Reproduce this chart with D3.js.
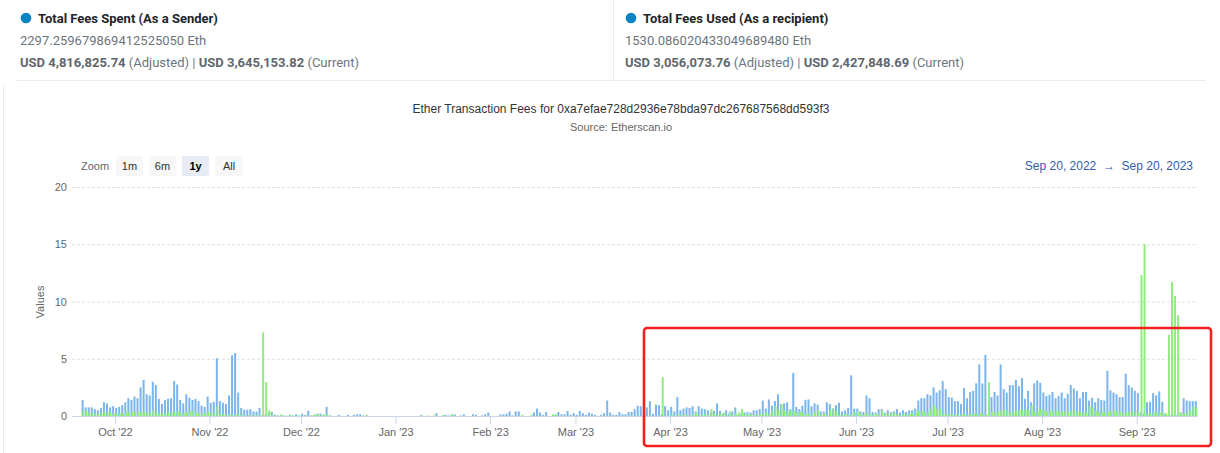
<!DOCTYPE html>
<html><head><meta charset="utf-8">
<script src="https://cdn.jsdelivr.net/npm/d3@7"></script>
<style>
html,body{margin:0;padding:0;background:#fff;}
svg{display:block;}
</style></head>
<body>
<svg id="c" width="1220" height="453"></svg>
<script>
// ---------------- DATA ----------------
const startDay = "2022-09-20";
const endDay = "2023-09-20";
const tickMonths = ["2022-10-01","2022-11-01","2022-12-01","2023-01-01","2023-02-01","2023-03-01","2023-04-01","2023-05-01","2023-06-01","2023-07-01","2023-08-01","2023-09-01"];
const yTicks = [0,5,10,15,20];
const zoomLabels = ["1m","6m","1y","All"];
const seriesNames = ["Total Fees Spent (As a Sender)","Total Fees Used (As a recipient)"];
const ethTotals = ["2297.259679869412525050 Eth","1530.086020433049689480 Eth"];
const usdAdjusted = ["USD 4,816,825.74","USD 3,056,073.76"];
const usdCurrent = ["USD 3,645,153.82","USD 2,427,848.69"];

// Daily fees (Eth) — sender (blue)
const sender = [
1.4,.75,.75,.75,.6,.5,.7,1.2,1.1,.75,
.85,.7,.8,.95,1.2,1.55,1.4,1.7,1.55,2.5,
3.15,1.9,1.8,3.0,2.7,1.5,1.05,1.4,1.5,1.55,
3.05,2.75,1.4,1.1,1.9,1.6,1.4,1.5,1.3,.9,
.8,1.7,1.15,1.25,5.05,1.3,1.15,1.05,1.8,5.3,
5.5,2.05,.7,.55,.55,.6,.4,.4,.7,
.1,.1,.3,.35,.12,.05,.05,.05,0,.1,
.05,.15,.05,.2,.1,.45,.05,.1,.2,.2,
.1,.8,.05,0,0,.1,0,0,.1,0,
.1,
.15,.15,.05,.05,
0,0,0,0,0,0,0,0,0,0,0,0,0,0,0,0,0,
.1,0,0,0,0,.25,0,0,.1,.05,
.15,.15,0,.05,.15,0,0,.15,.1,0,
.05,.15,.3,0,0,0,.15,.15,.2,.4,
.05,.4,.4,0,0,0,0,.3,.65,.3,
.1,.35,0,0,.1,.35,.15,.15,.45,.1,
.25,.1,.45,.25,.1,.3,.2,.1,.02,.1,
.25,1.35,.3,.1,.1,.35,.15,.15,.35,.35,
.6,
.9,.85,.4,.75,1.3,.2,1.0,.95,.15,.85,
.5,.8,.4,1.65,.5,.65,.75,.7,.85,.4,
.85,.65,.6,.5,.3,.45,1.1,.45,.2,.5,
.2,.4,.75,.1,.2,.3,.35,.3,.5,.5,
.6,1.35,.65,1.45,.9,1.3,1.9,1.05,1.1,1.2,
.6,3.75,.8,.6,.9,1.4,1.45,.85,1.1,1.0,
.4,.4,1.2,1.05,.65,.95,1.15,.4,.5,.7,
3.55,.65,.65,.4,.35,1.8,1.55,.35,.3,.6,
.6,.3,.5,.35,.4,.6,.3,.5,.35,.5,
.5,.65,
1.35,1.55,1.55,1.9,1.8,2.5,2.05,2.25,3.05,2.35,
1.65,1.6,1.3,1.3,1.05,2.45,1.55,2.1,2.2,2.85,
4.5,2.85,5.35,.1,1.65,2.1,1.8,4.5,2.35,2.05,
2.7,2.7,3.15,2.6,3.3,1.5,2.2,1.2,2.85,3.1,
2.9,2.05,1.75,1.85,2.1,1.55,1.75,2.05,1.55,1.95,
2.7,2.4,2.2,1.55,2.1,2.1,1.35,1.6,1.2,1.55,
1.4,1.35,3.95,2.25,2.05,1.9,1.65,1.65,3.7,2.7,
2.5,2.2,2.0,
.3,.2,1.2,1.25,2.0,1.8,2.15,1.25,.2,.1,.1,.1,.1,.3,1.55,1.35,1.3,1.3,1.3
];

// Daily fees (Eth) — recipient (green)
const recipient = [
.38,.5,.29,.26,.2,.17,.23,.38,.29,.32,
.23,.23,.23,.2,.35,.32,.35,.38,.32,.38,
.32,.29,.23,.52,.32,.23,.2,.23,.35,.29,
.35,.41,.29,.23,.35,.41,.47,.29,.26,.26,
.23,.38,.29,.23,.8,.17,.15,.1,.12,.1,
.1,.1,.08,.05,.05,.05,.05,.05,.05,
7.3,2.95,.5,.1,.05,0,.15,0,.05,.1,
0,.05,.05,0,.05,0,.05,.15,.1,.05,
.15,.1,.05,0,0,0,0,0,0,0,
0,
0,0,0,.1,
0,0,0,0,0,0,0,0,0,0,0,0,0,0,0,0,0,
.05,0,.05,0,.05,0,0,.1,0,0,
.15,0,0,0,0,0,0,0,0,0,
0,0,0,0,0,0,0,0,0,0,
0,0,0,.1,0,0,.1,0,.05,0,
0,0,0,.15,.15,0,0,0,0,0,
0,0,0,0,0,0,0,0,0,0,
0,0,0,0,0,0,0,0,0,0,
0,
.05,0,0,0,.05,0,0,.05,3.4,0,
.05,.1,0,.1,.05,.1,.1,.05,.1,.3,
.1,.1,.15,.1,.6,.2,.1,.15,.3,.1,
.4,.1,.2,.3,.6,.1,.15,.2,.1,.1,
.15,.2,.3,.15,.4,.85,.5,1.0,.5,.4,
.5,.4,.35,.4,.3,.15,.2,.1,.4,.5,
.1,.3,.1,.5,.65,.4,.1,.1,.2,.1,
.1,.3,.4,.2,.1,.3,.1,.1,.2,.1,
.5,.2,.1,.3,.3,.15,.1,.2,.1,.2,
.25,.3,
.5,.4,.4,.3,.6,.95,.6,.6,.25,.2,
.17,.12,.12,.1,.17,.2,.12,.15,.23,.23,
.23,.17,.1,2.95,.38,.29,.38,.52,.52,.44,
.32,.35,.5,.55,.5,.58,.52,.87,.44,.38,
.6,.52,.41,.38,.52,.44,.44,.35,.44,.38,
.44,.52,.35,.32,.35,.32,.8,.75,.5,.38,
.32,.32,.38,.44,.5,.41,.38,.23,.35,.38,
.41,.38,.32,
12.3,15.0,.2,.25,.3,.35,.3,.3,.25,7.1,11.7,10.5,8.8,.3,.2,.3,.5,.8,.75
];

// ---------------- DRAW ----------------
const svg = d3.select("#c");
const parse = d3.utcParse("%Y-%m-%d");
const t0 = parse(startDay), t1 = parse(endDay);
const days = d3.utcDay.range(t0, d3.utcDay.offset(t1, 1));

const FONT = "'Liberation Sans', Arial, sans-serif";
const HFONT = "Roboto, 'Noto Sans', sans-serif";

// header
const panels = [{x:20},{x:625}];
panels.forEach((p,i)=>{
  const g = svg.append("g");
  g.append("circle").attr("cx", p.x+6).attr("cy", 18).attr("r", 5.3).attr("fill", "#0784c3");
  g.append("text").attr("x", p.x+18).attr("y", 22.5).attr("font-family", HFONT)
    .attr("font-size", 13).attr("font-weight", 700).attr("fill", "#212529").text(seriesNames[i]);
  g.append("text").attr("x", p.x).attr("y", 44.5).attr("font-family", HFONT)
    .attr("font-size", 13).attr("fill", "#6c757d").text(ethTotals[i]);
  const t = g.append("text").attr("x", p.x).attr("y", 66.5).attr("font-family", HFONT)
    .attr("font-size", 13).attr("fill", "#6c757d");
  t.append("tspan").attr("font-weight", 700).attr("fill","#5f676e").text(usdAdjusted[i]);
  t.append("tspan").text(" (Adjusted) | ");
  t.append("tspan").attr("font-weight", 700).attr("fill","#5f676e").text(usdCurrent[i]);
  t.append("tspan").text(" (Current)");
});
svg.append("line").attr("x1", 17).attr("x2", 1206).attr("y1", 80.5).attr("y2", 80.5).attr("stroke", "#e9ecef");
svg.append("line").attr("x1", 613.5).attr("x2", 613.5).attr("y1", 0).attr("y2", 80).attr("stroke", "#e9ecef");
svg.append("line").attr("x1", 3.5).attr("x2", 3.5).attr("y1", 86).attr("y2", 453).attr("stroke", "#e9ecef");

// titles
svg.append("text").attr("x", 621).attr("y", 113).attr("text-anchor", "middle")
  .attr("font-family", FONT).attr("font-size", 12).attr("fill", "#333")
  .text("Ether Transaction Fees for 0xa7efae728d2936e78bda97dc267687568dd593f3");
svg.append("text").attr("x", 621).attr("y", 131).attr("text-anchor", "middle")
  .attr("font-family", FONT).attr("font-size", 11).attr("fill", "#666")
  .text("Source: Etherscan.io");

// range selector
svg.append("text").attr("x", 81).attr("y", 170).attr("font-family", FONT).attr("font-size", 11)
  .attr("fill", "#666").text("Zoom");
const btnX = [116, 149, 182, 215];
const btnW = [27, 27, 27, 28];
zoomLabels.forEach((lab,i)=>{
  const sel = lab === "1y";
  svg.append("rect").attr("x", btnX[i]).attr("y", 156).attr("width", btnW[i]).attr("height", 20)
    .attr("fill", sel ? "#e6ebf5" : "#f7f7f7");
  svg.append("text").attr("x", btnX[i] + btnW[i]/2).attr("y", 170).attr("text-anchor", "middle")
    .attr("font-family", FONT).attr("font-size", 11).attr("fill", sel ? "#000" : "#333")
    .attr("font-weight", sel ? 700 : 400).text(lab);
});
const fmtRange = d3.utcFormat("%b %-d, %Y");
svg.append("text").attr("x", 1193).attr("y", 170).attr("text-anchor", "end")
  .attr("font-family", FONT).attr("font-size", 12).attr("fill", "#335cad")
  .attr("xml:space", "preserve")
  .text(fmtRange(t0) + "  \u2192  " + fmtRange(t1));

// scales
const x = d3.scaleUtc().domain([t0, t1]).range([81.4, 1194.6]);
const y = d3.scaleLinear().domain([0, 20]).range([416, 187]);
const plotL = 72, plotR = 1198;

// y grid + labels
const yAxis = svg.append("g").attr("transform", `translate(${plotL},0)`)
  .call(d3.axisLeft(y).tickValues(yTicks).tickSize(-(plotR - plotL)).tickPadding(5).tickFormat(d3.format("d")));
yAxis.select(".domain").remove();
yAxis.selectAll(".tick line").attr("stroke", "#e0e0e0").attr("stroke-dasharray", "3,2")
  .attr("opacity", d => d === 0 ? 0 : 1);
yAxis.selectAll(".tick text").attr("font-family", FONT).attr("font-size", 11).attr("fill", "#666");
svg.append("text").attr("transform", "translate(44,302) rotate(-90)").attr("text-anchor", "middle")
  .attr("font-family", FONT).attr("font-size", 11).attr("fill", "#666").text("Values");

// bars
const dayW = x(d3.utcDay.offset(t0,1)) - x(t0);
const bw = 2.0;
const gB = svg.append("g");
gB.selectAll("rect").data(days.map((d,i)=>({d, v: sender[i]}))).join("rect")
  .attr("x", o => x(o.d) + dayW*0.5 - bw/2 - 0.3)
  .attr("y", o => y(o.v))
  .attr("width", bw)
  .attr("height", o => y(0) - y(o.v))
  .attr("fill", "#7cb5ec");
const gG = svg.append("g");
gG.selectAll("rect").data(days.map((d,i)=>({d, v: recipient[i]}))).join("rect")
  .attr("x", o => x(o.d) + dayW*0.5 - bw/2 + 0.3)
  .attr("y", o => y(o.v))
  .attr("width", bw)
  .attr("height", o => y(0) - y(o.v))
  .attr("fill", "#90ed7d");

// x axis
const months = tickMonths.map(parse);
const xAxis = svg.append("g").attr("transform", "translate(0,416)")
  .call(d3.axisBottom(x).tickValues(months).tickSize(8).tickPadding(4).tickFormat(d3.utcFormat("%b '%y")));
xAxis.select(".domain").remove();
xAxis.selectAll(".tick line").attr("stroke", "#ccd6eb");
xAxis.selectAll(".tick text").attr("font-family", FONT).attr("font-size", 11).attr("fill", "#666");
svg.append("line").attr("x1", plotL).attr("x2", plotR).attr("y1", 416.5).attr("y2", 416.5).attr("stroke", "#ccd6eb");

// annotation box
svg.append("rect").attr("x", 644).attr("y", 328).attr("width", 567).attr("height", 118)
  .attr("rx", 3).attr("fill", "none").attr("stroke", "#f21f1f").attr("stroke-width", 2.6);
</script>
</body></html>
